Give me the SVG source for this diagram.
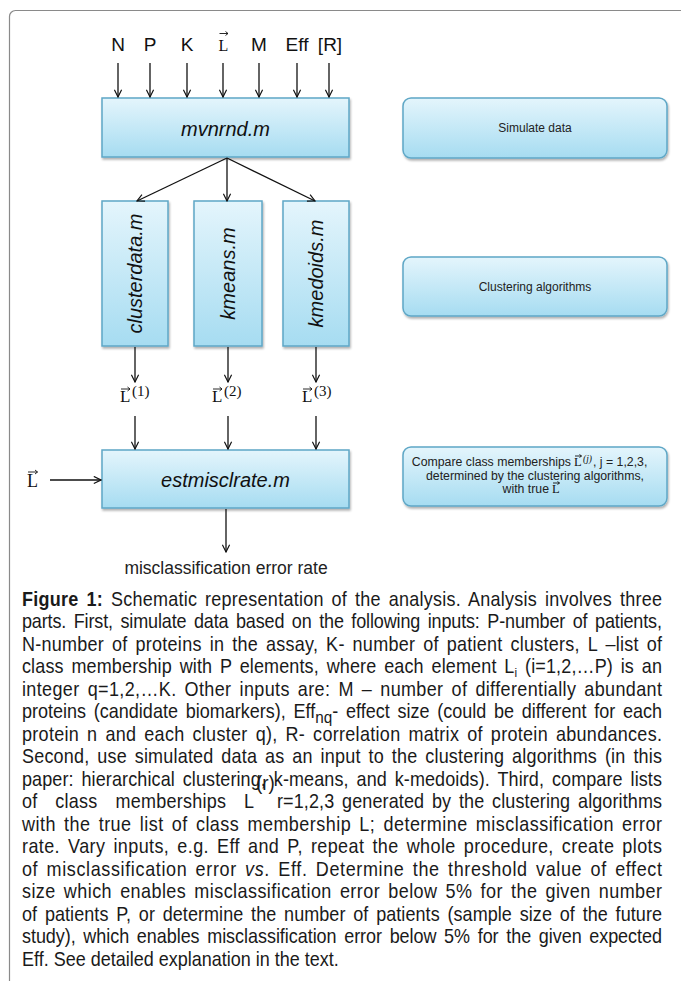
<svg xmlns="http://www.w3.org/2000/svg" width="681" height="981" viewBox="0 0 681 981">
<defs>
<linearGradient id="g" x1="0" y1="0" x2="0" y2="1"><stop offset="0" stop-color="#e4f5fc"/><stop offset="1" stop-color="#a6dcf1"/></linearGradient>
<filter id="sh" x="-10%" y="-10%" width="130%" height="140%"><feDropShadow dx="1" dy="2" stdDeviation="1.2" flood-color="#000" flood-opacity="0.3"/></filter>
<marker id="ah" viewBox="0 0 10 10" refX="9" refY="5" markerWidth="9" markerHeight="9" markerUnits="userSpaceOnUse" orient="auto"><path d="M1,1 L9,5 L1,9" fill="none" stroke="#111" stroke-width="1.3"/></marker>
<style>
.box{fill:url(#g);stroke:#5ea7c6;stroke-width:1.5;filter:url(#sh)}
.lbl{font-family:'Liberation Sans',Arial,sans-serif;font-style:italic;font-size:20px;fill:#111;text-anchor:middle}
.in{font-family:'Liberation Sans',Arial,sans-serif;font-size:19px;fill:#111;text-anchor:middle}
.ser{font-family:'Liberation Serif','Times New Roman',serif;fill:#111}
.side{font-family:'Liberation Sans',Arial,sans-serif;font-size:12px;fill:#222}
.cmp{font-family:'Liberation Sans',Arial,sans-serif;font-size:12.3px;fill:#222}
.cap{font-family:'Liberation Sans',Arial,sans-serif;font-size:20px;fill:#1a1a1a}
.cap text{word-spacing:3px}
.con line{stroke:#111;stroke-width:1.3;fill:none}
.arr{marker-end:url(#ah)}
.vec{stroke:#111;stroke-width:0.9;fill:none}
</style>
</defs>
<rect width="681" height="981" fill="#fff"/>
<path d="M9.5,981 V16.5 A6,6 0 0 1 15.5,10.5 H681" fill="none" stroke="#8a8a8a" stroke-width="1.2"/>

<g id="inputs">
<text class="in" x="118" y="51">N</text>
<text class="in" x="150" y="51">P</text>
<text class="in" x="187" y="51">K</text>
<g id="input-L"><text class="ser" x="218.5" y="51" font-size="16">L</text><path class="vec" d="M219.5,33.5 H228 M225.5,31.5 L228,33.5 L225.5,35.5"/></g>
<text class="in" x="259" y="51">M</text>
<text class="in" x="297" y="51">Eff</text>
<text class="in" x="330" y="51">[R]</text>
</g>

<g id="mvnrnd"><rect class="box" x="102" y="98" width="247" height="59"/><text class="lbl" x="225.5" y="136">mvnrnd.m</text></g>
<g id="clusterdata"><rect class="box" x="102" y="201" width="66" height="145"/><text class="lbl" transform="translate(135,273.5) rotate(-90)" x="0" y="7">clusterdata.m</text></g>
<g id="kmeans"><rect class="box" x="194" y="201" width="68" height="145"/><text class="lbl" transform="translate(228,273.5) rotate(-90)" x="0" y="7">kmeans.m</text></g>
<g id="kmedoids"><rect class="box" x="283" y="201" width="66" height="145"/><text class="lbl" transform="translate(316,273.5) rotate(-90)" x="0" y="7">kmedoids.m</text></g>
<g id="estmisclrate"><rect class="box" x="102" y="450" width="247" height="58"/><text class="lbl" x="225.5" y="487">estmisclrate.m</text></g>

<g id="L1"><text class="ser" x="120" y="402" font-size="17">L</text><text class="ser" x="132" y="396" font-size="15">(1)</text><path class="vec" d="M121,389 H130 M127.5,387 L130,389 L127.5,391"/></g>
<g id="L2"><text class="ser" x="212" y="402" font-size="17">L</text><text class="ser" x="224" y="396" font-size="15">(2)</text><path class="vec" d="M213,389 H222 M219.5,387 L222,389 L219.5,391"/></g>
<g id="L3"><text class="ser" x="302" y="402" font-size="17">L</text><text class="ser" x="314" y="396" font-size="15">(3)</text><path class="vec" d="M303,389 H312 M309.5,387 L312,389 L309.5,391"/></g>
<g id="Ltrue"><text class="ser" x="27" y="487" font-size="18">L</text><path class="vec" d="M28,472 H37.5 M35,470 L37.5,472 L35,474"/></g>
<g id="output"><text x="226" y="574" font-family="'Liberation Sans',Arial,sans-serif" font-size="17.5" fill="#222" text-anchor="middle">misclassification error rate</text></g>

<g id="simulate"><rect class="box" x="403" y="98" width="264" height="60" rx="8"/><text class="side" x="535" y="132" text-anchor="middle">Simulate data</text></g>
<g id="clustering"><rect class="box" x="403" y="257" width="264" height="59" rx="8"/><text class="side" x="535" y="291" text-anchor="middle">Clustering algorithms</text></g>
<g id="compare"><rect class="box" x="403" y="447" width="264" height="59" rx="8"/>
<text class="cmp" x="571" y="466" text-anchor="end">Compare class memberships</text>
<text class="ser" x="574" y="466" font-size="12.5">L</text><path class="vec" d="M575,456 H581.5 M579.5,454.5 L581.5,456 L579.5,457.5"/>
<text class="ser" x="583" y="462" font-size="9.5" font-style="italic">(j)</text>
<text class="cmp" x="593" y="466">, j = 1,2,3,</text>
<text class="cmp" x="535" y="479.5" text-anchor="middle">determined by the clustering algorithms,</text>
<text class="cmp" x="549" y="493" text-anchor="end">with true</text>
<text class="ser" x="552" y="493" font-size="12.5">L</text><path class="vec" d="M553,483 H559.5 M557.5,481.5 L559.5,483 L557.5,484.5"/>
</g>

<g id="connectors" class="con">
<line class="arr" x1="118" y1="63" x2="118" y2="97"/>
<line class="arr" x1="150" y1="63" x2="150" y2="97"/>
<line class="arr" x1="187" y1="63" x2="187" y2="97"/>
<line class="arr" x1="223" y1="63" x2="223" y2="97"/>
<line class="arr" x1="259" y1="63" x2="259" y2="97"/>
<line class="arr" x1="297" y1="63" x2="297" y2="97"/>
<line class="arr" x1="329" y1="63" x2="329" y2="97"/>
<line class="arr" x1="227" y1="158" x2="137" y2="201"/>
<line class="arr" x1="227" y1="158" x2="227" y2="201"/>
<line class="arr" x1="227" y1="158" x2="315" y2="201"/>
<line class="arr" x1="135" y1="347" x2="135" y2="382"/>
<line class="arr" x1="228" y1="347" x2="228" y2="382"/>
<line class="arr" x1="316" y1="347" x2="316" y2="382"/>
<line class="arr" x1="135" y1="416" x2="135" y2="449"/>
<line class="arr" x1="228" y1="416" x2="228" y2="449"/>
<line class="arr" x1="316" y1="416" x2="316" y2="449"/>
<line class="arr" x1="50" y1="480" x2="101" y2="480"/>
<line class="arr" x1="226" y1="509" x2="226" y2="552"/>
</g>

<g id="caption" class="cap" transform="scale(0.9,1)">
<text x="24.44" y="606" textLength="711.1" lengthAdjust="spacing"><tspan font-weight="bold">Figure 1:</tspan> Schematic representation of the analysis. Analysis involves three</text>
<text x="24.44" y="628.5" textLength="711.1" lengthAdjust="spacing">parts. First, simulate data based on the following inputs: P-number of patients,</text>
<text x="24.44" y="651" textLength="711.1" lengthAdjust="spacing">N-number of proteins in the assay, K- number of patient clusters, L –list of</text>
<text x="24.44" y="673.5" textLength="711.1" lengthAdjust="spacing">class membership with P elements, where each element L<tspan font-size="13" dy="4">i</tspan><tspan dy="-4"> (i=1,2,…P) is an</tspan></text>
<text x="24.44" y="696" textLength="711.1" lengthAdjust="spacing">integer q=1,2,…K. Other inputs are: M – number of differentially abundant</text>
<text x="24.44" y="718.5" textLength="711.1" lengthAdjust="spacing">proteins (candidate biomarkers), Eff<tspan font-size="17" dy="5">nq</tspan><tspan dy="-5">- effect size (could be different for each</tspan></text>
<text x="24.44" y="741" textLength="711.1" lengthAdjust="spacing">protein n and each cluster q), R- correlation matrix of protein abundances.</text>
<text x="24.44" y="763.5" textLength="711.1" lengthAdjust="spacing">Second, use simulated data as an input to the clustering algorithms (in this</text>
<text x="24.44" y="786" textLength="711.1" lengthAdjust="spacing">paper: hierarchical clustering, k-means, and k-medoids). Third, compare lists</text>
<text x="24.44" y="808.5" style="word-spacing:14px" textLength="257.8" lengthAdjust="spacing">of class memberships L</text>
<text x="284.4" y="790" font-size="21" style="word-spacing:0">(r)</text>
<text x="307.8" y="808.5" textLength="427.8" lengthAdjust="spacing">r=1,2,3 generated by the clustering algorithms</text>
<text x="24.44" y="831" textLength="711.1" lengthAdjust="spacing">with the true list of class membership L; determine misclassification error</text>
<text x="24.44" y="853.5" textLength="711.1" lengthAdjust="spacing">rate. Vary inputs, e.g. Eff and P, repeat the whole procedure, create plots</text>
<text x="24.44" y="876" textLength="711.1" lengthAdjust="spacing">of misclassification error <tspan font-style="italic">vs</tspan>. Eff. Determine the threshold value of effect</text>
<text x="24.44" y="898.5" textLength="711.1" lengthAdjust="spacing">size which enables misclassification error below 5% for the given number</text>
<text x="24.44" y="921" textLength="711.1" lengthAdjust="spacing">of patients P, or determine the number of patients (sample size of the future</text>
<text x="24.44" y="943.5" textLength="711.1" lengthAdjust="spacing">study), which enables misclassification error below 5% for the given expected</text>
<text x="24.44" y="966" style="word-spacing:0">Eff. See detailed explanation in the text.</text>
</g>
</svg>
